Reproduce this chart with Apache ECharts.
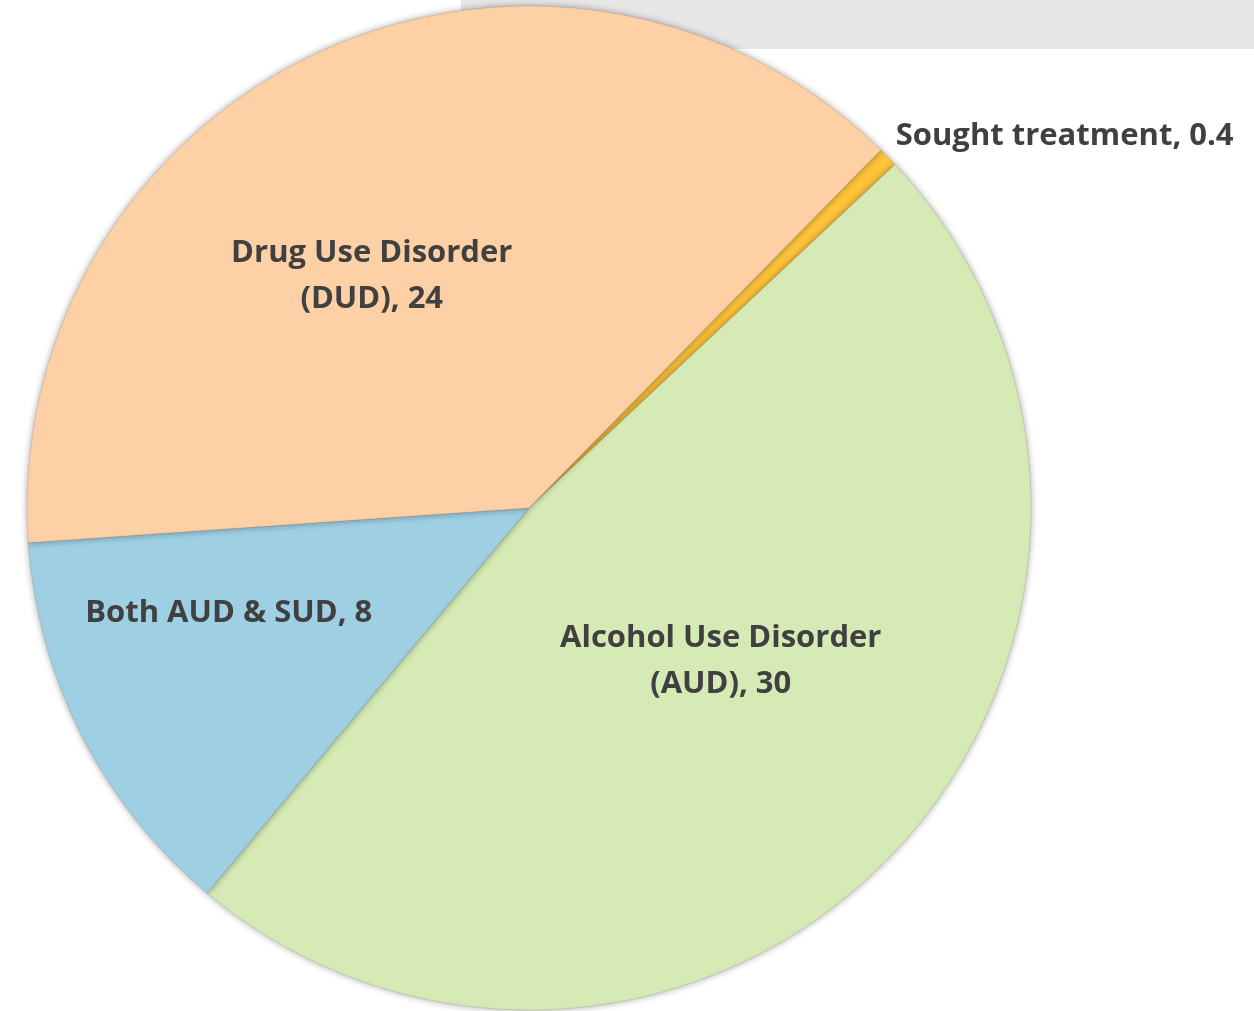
<!DOCTYPE html>
<html>
<head>
<meta charset="utf-8">
<title>Substance use disorders</title>
<script src="https://cdn.jsdelivr.net/npm/echarts@6/dist/echarts.min.js"></script>
<style>
  html, body { margin: 0; padding: 0; background: #ffffff; }
  #chart { width: 1254px; height: 1011px; }
</style>
</head>
<body>
<div id="chart"></div>
<script>
// Slice names and values, in clockwise order from the start angle
const categories = [
  'Sought treatment',
  'Alcohol Use Disorder\n(AUD)',
  'Both AUD & SUD',
  'Drug Use Disorder\n(DUD)'
];
const values = [0.4, 30, 8, 24];
const sliceColors = ['#FFC43A', '#D5EAB5', '#9ECFE3', '#FDD0A6'];

// Per-slice label nudges (pixels) from the default inside position
const labelNudge = {
  'Sought treatment': [354, -194],
  'Alcohol Use Disorder\n(AUD)': [7, -21],
  'Both AUD & SUD': [-74, -10],
  'Drug Use Disorder\n(DUD)': [-51, -1]
};

const chart = echarts.init(document.getElementById('chart'), null, { renderer: 'canvas' });

chart.setOption({
  animation: false,
  backgroundColor: '#ffffff',
  graphic: [{
    type: 'rect',
    z: -10,
    left: 461,
    top: 0,
    shape: { width: 793, height: 49 },
    style: { fill: '#E6E6E6' }
  }],
  series: [{
    type: 'pie',
    center: [529, 508],
    radius: [0, 502],
    startAngle: 45.5,
    clockwise: true,
    avoidLabelOverlap: false,
    data: categories.map((name, i) => ({
      name: name,
      value: values[i],
      itemStyle: { color: sliceColors[i] }
    })),
    itemStyle: {
      borderWidth: 0.6,
      borderColor: 'rgba(120,110,100,0.35)',
      shadowBlur: 7,
      shadowColor: 'rgba(0,0,0,0.35)'
    },
    label: {
      show: true,
      position: 'inside',
      formatter: p => p.name + ', ' + p.value,
      color: '#404040',
      fontFamily: 'Open Sans',
      fontWeight: 'bold',
      fontSize: 31,
      lineHeight: 46,
      align: 'center'
    },
    labelLine: { show: false },
    labelLayout: function (params) {
      const name = categories[params.dataIndex];
      const n = labelNudge[name] || [0, 0];
      return { dx: n[0], dy: n[1] };
    },
    emphasis: { disabled: true }
  }]
});
</script>
</body>
</html>
